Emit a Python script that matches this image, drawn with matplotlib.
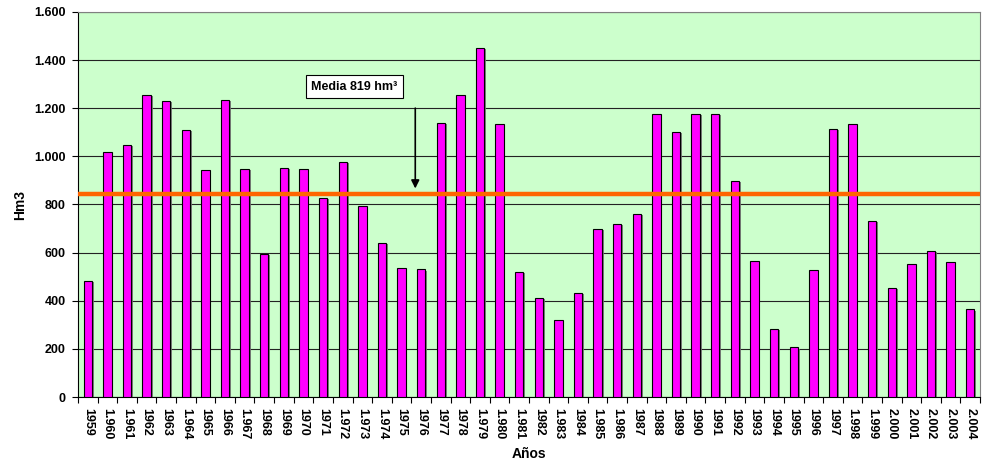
import matplotlib
matplotlib.use("Agg")
import matplotlib.pyplot as plt
import matplotlib.patheffects as pe
import numpy as np

plt.rcParams['font.family'] = ['Liberation Sans', 'DejaVu Sans']

years = ["1959", "1.960", "1.961", "1962", "1963", "1.964", "1965", "1966", "1.967", "1968",
         "1969", "1970", "1971", "1.972", "1.973", "1.974", "1975", "1976", "1977", "1978",
         "1.979", "1.980", "1.981", "1982", "1.983", "1984", "1.985", "1.986", "1987", "1988",
         "1989", "1990", "1991", "1992", "1993", "1994", "1995", "1996", "1997", "1.998",
         "1.999", "2.000", "2.001", "2.002", "2.003", "2.004"]
values = [483, 1020, 1048, 1256, 1232, 1111, 945, 1235, 949, 596,
          951, 947, 827, 978, 794, 642, 538, 530, 1140, 1256,
          1451, 1136, 521, 410, 319, 431, 700, 721, 759, 1177,
          1102, 1176, 1178, 898, 567, 281, 206, 528, 1115, 1136,
          733, 455, 551, 607, 559, 364]
media_line = 845
y_ticks = [0, 200, 400, 600, 800, 1000, 1200, 1400, 1600]
y_tick_labels = ["0", "200", "400", "600", "800", "1.000", "1.200", "1.400", "1.600"]

fig = plt.figure(figsize=(9.82, 4.63), dpi=100)
ax = fig.add_axes([78/982, 66/463, 902/982, 385/463])
ax.set_facecolor('#CCFFCC')

x = np.arange(len(values))
bars = ax.bar(x, values, width=0.43, color='#FF00FF', edgecolor='black', linewidth=0.8, zorder=3)
for b in bars:
    b.set_path_effects([pe.SimplePatchShadow(offset=(1.2, -0.8), shadow_rgbFace='#707070', alpha=0.9), pe.Normal()])

ax.axhline(media_line, color='#FF6600', linewidth=3.2, zorder=4)

ax.set_xlim(-0.5, len(values) - 0.5)
ax.set_ylim(0, 1600)
ax.set_yticks(y_ticks)
ax.set_yticklabels(y_tick_labels, fontsize=9, fontweight='bold')
ax.yaxis.grid(True, color='#222222', linewidth=0.8, zorder=1)
ax.set_axisbelow(True)

ax.set_xticks(x)
ax.set_xticklabels(years, rotation=270, fontsize=9, fontweight='bold')
ax.set_xticks(np.arange(len(values) + 1) - 0.5, minor=True)
ax.tick_params(axis='x', which='major', length=0, pad=8)
ax.tick_params(axis='x', which='minor', length=4, width=0.8)
ax.tick_params(axis='y', length=4, width=0.8, pad=5)

for side in ['top', 'right']:
    ax.spines[side].set_color('#808080')
for side in ['left', 'bottom']:
    ax.spines[side].set_color('black')

ax.set_xlabel("Años", fontsize=10, fontweight='bold', labelpad=5)
ax.set_ylabel("Hm3", fontsize=10, fontweight='bold', labelpad=5)

ax.annotate("", xy=(16.7, media_line + 10), xytext=(16.7, 1212),
            arrowprops=dict(arrowstyle='-|>', color='black', lw=1.2, mutation_scale=12), zorder=5)
ax.text(13.6, 1290, "Media 819 hm³", fontsize=9, fontweight='bold',
        ha='center', va='center', zorder=6,
        bbox=dict(boxstyle='square,pad=0.45', facecolor='white', edgecolor='black', linewidth=0.8))

fig.savefig("out.png", dpi=100)
